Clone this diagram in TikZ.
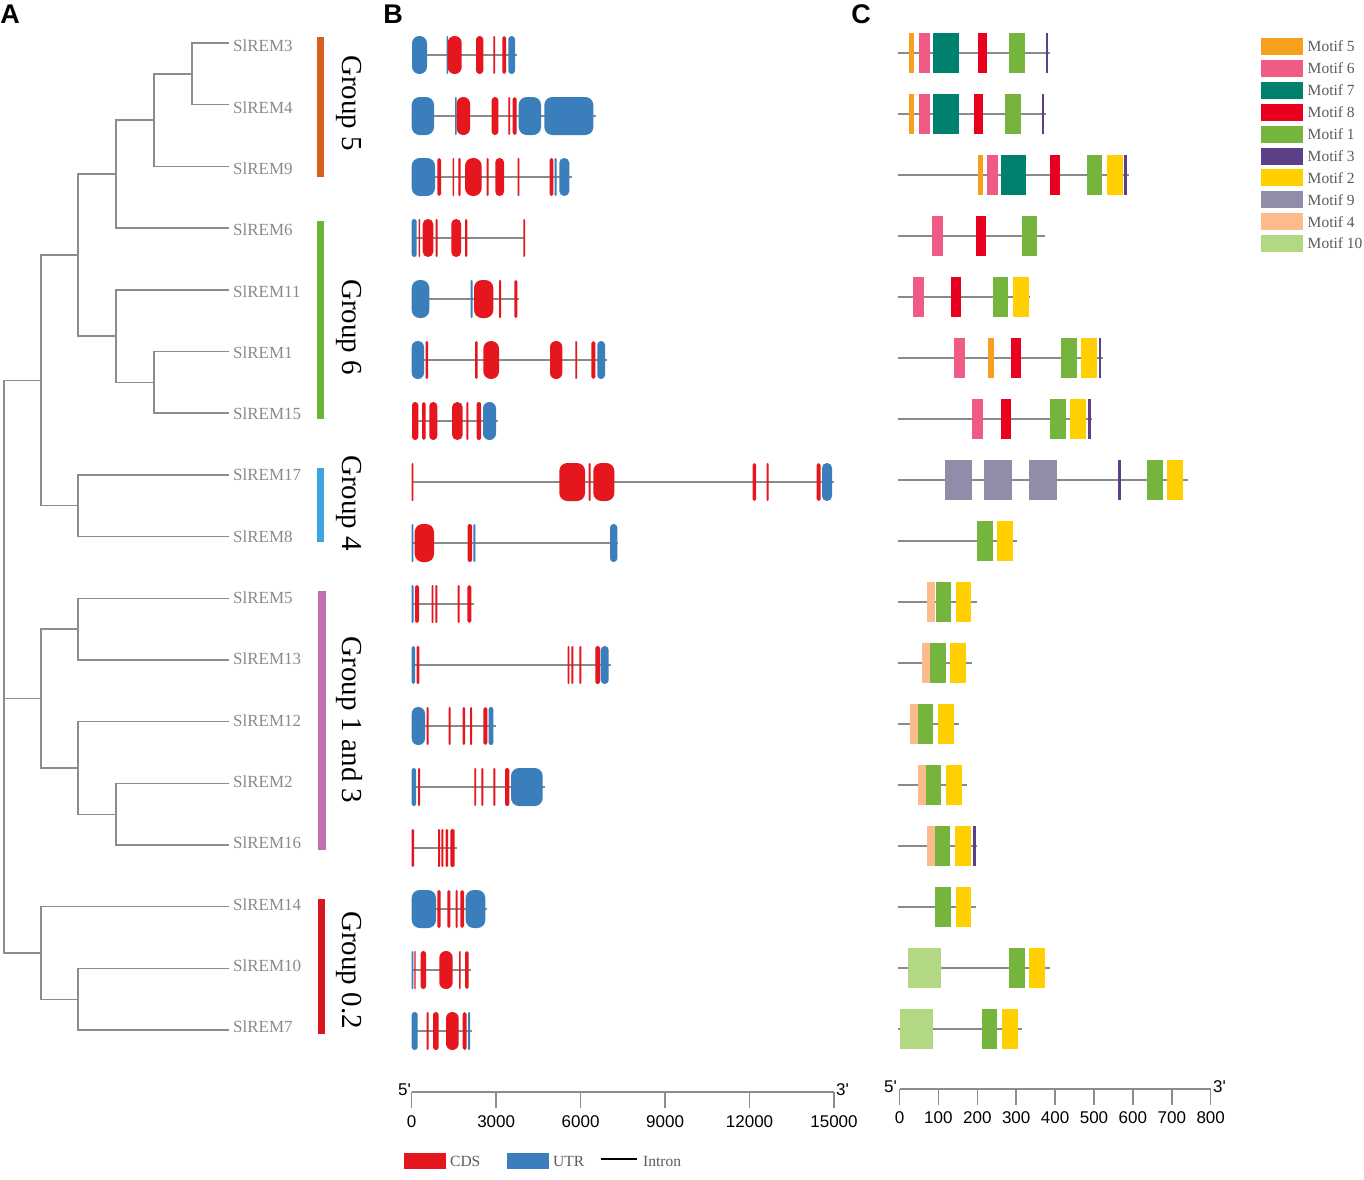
\documentclass[tikz,border=0pt]{standalone}
\usepackage{fontspec}
\setmainfont{Liberation Serif}
\newfontfamily\sansf{Liberation Sans}
\usepackage{tikz}

\definecolor{treegray}{HTML}{8C8C8C}
\definecolor{labgray}{HTML}{8A8A8A}
\definecolor{leggray}{HTML}{5A5A5A}
\definecolor{linegray}{HTML}{8A8A8A}
\definecolor{cds}{HTML}{E5161E}
\definecolor{utr}{HTML}{3A7EBB}
\definecolor{gfive}{HTML}{D9601A}
\definecolor{gsix}{HTML}{6CB534}
\definecolor{gfour}{HTML}{3AA6DD}
\definecolor{gone}{HTML}{C06FB0}
\definecolor{gzero}{HTML}{D7161F}
\definecolor{m5}{HTML}{F7A01D}
\definecolor{m6}{HTML}{EF5B84}
\definecolor{m7}{HTML}{00806F}
\definecolor{m8}{HTML}{E9001E}
\definecolor{m1}{HTML}{75B43D}
\definecolor{m3}{HTML}{5B4088}
\definecolor{m2}{HTML}{FFCF00}
\definecolor{m9}{HTML}{918DA8}
\definecolor{m4}{HTML}{FDBA8A}
\definecolor{m10}{HTML}{B2D884}

% exon with rounded ends, motif box
\newcommand{\exon}[4]{\pgfmathsetmacro{\rr}{min(8,0.49*(#4-#3))}%
  \fill[#1, rounded corners=\rr pt] (#3,#2-19) rectangle (#4,#2+19);}
\newcommand{\motif}[4]{\fill[#1] (#3,#2-20) rectangle (#4,#2+20);}
\newcommand{\gene}[3]{\draw[intron] (411.7,#1) -- (#2,#1);
  \foreach \c/\a/\b in {#3}{\exon{\c}{#1}{\a}{\b}}}
\newcommand{\prot}[3]{\draw[pline] (897.7,#1) -- (#2,#1);
  \foreach \c/\a/\b in {#3}{\motif{\c}{#1}{\a}{\b}}}

\tikzset{
  tree/.style={treegray, line width=1.4pt},
  lbl/.style={anchor=west, inner sep=0, text=labgray, font=\fontsize{17}{19}\selectfont},
  grp/.style={rotate=-90, inner sep=0, font=\fontsize{29}{31}\selectfont},
  panel/.style={inner sep=0, font=\sansf\bfseries\fontsize{27}{29}\selectfont},
  intron/.style={linegray, line width=2.2pt},
  pline/.style={linegray, line width=2pt},
  axis/.style={treegray, line width=1.5pt},
  tick/.style={inner sep=0, font=\sansf\fontsize{17}{19}\selectfont},
  leg/.style={anchor=west, inner sep=0, text=leggray, font=\fontsize{15.5}{17}\selectfont}
}

\begin{document}
\begin{tikzpicture}[x=1pt, y=-1pt]
\useasboundingbox (0,0) rectangle (1364,1179);

\node[panel] (pa) at (10,14) {A};
\node[panel] (pb) at (393,14) {B};
\node[panel] (pc) at (861,14) {C};

% tree
\foreach \n/\y [count=\q from 0] in {3/43, 4/104.7, 9/166.4, 6/228.1, 11/289.8, 1/351.4, 15/413.1, 17/474.8, 8/536.5, 5/598.2, 13/659.9, 12/721.6, 2/783.3, 16/845, 14/906.7, 10/968.4, 7/1030}{
  \coordinate (l\n) at (229,\y);
  \node[lbl] (t\n) at (233,46+61.3*\q) {SlREM\n};
}
\coordinate (a) at (192,73.9);
\coordinate (b) at (154,120.1);
\coordinate (c) at (116,174.1);
\coordinate (d) at (154,382.3);
\coordinate (e) at (116,336);
\coordinate (f) at (78,255);
\coordinate (g) at (78,505.7);
\coordinate (h) at (41,380.4);
\coordinate (i) at (78,629);
\coordinate (j) at (116,814.2);
\coordinate (k) at (78,767.9);
\coordinate (m) at (41,698.5);
\coordinate (n) at (78,999.2);
\coordinate (o) at (41,953);
\coordinate (rt) at (4,698.5);

\draw[tree] (l3) -| (a) |- (l4);
\draw[tree] (a) -| (b) |- (l9);
\draw[tree] (b) -| (c) |- (l6);
\draw[tree] (l1) -| (d) |- (l15);
\draw[tree] (l11) -| (e) |- (d);
\draw[tree] (c) -| (f) |- (e);
\draw[tree] (l17) -| (g) |- (l8);
\draw[tree] (f) -| (h) |- (g);
\draw[tree] (l5) -| (i) |- (l13);
\draw[tree] (l2) -| (j) |- (l16);
\draw[tree] (l12) -| (k) |- (j);
\draw[tree] (i) -| (m) |- (k);
\draw[tree] (l10) -| (n) |- (l7);
\draw[tree] (l14) -| (o) |- (n);
\draw[tree] (h) -| (rt) |- (o);
\draw[tree] (m) -- (rt);

% groups
\fill[gfive] (317,37) rectangle (324,177);
\fill[gsix] (317,221) rectangle (324,419);
\fill[gfour] (317,468) rectangle (324,542);
\fill[gone] (318,591) rectangle (326,850);
\fill[gzero] (318,899) rectangle (325,1034);
\node[grp] (g5) at (349,103) {Group 5};
\node[grp] (g6) at (349,327) {Group 6};
\node[grp] (g4) at (349,503) {Group 4};
\node[grp] (g13) at (349,720) {Group 1 and 3};
\node[grp] (g02) at (349,970) {Group 0.2};

% gene structures
\gene{55}{516.7}{utr/412/427, utr/446.7/448, cds/447.7/461.7, cds/476/483.3, cds/493.3/495, cds/502.3/506, utr/508.3/515}
\gene{116}{596}{utr/411.7/434, utr/455/456.7, cds/456.7/470, cds/491.7/498.3, cds/508.3/510, cds/512.7/516.7, utr/518.7/541, utr/544.3/593.3}
\gene{177}{571.7}{utr/411.7/435, cds/437.3/441, cds/452.7/454, cds/458.3/460.7, cds/465/481.7, cds/486.7/488.7, cds/495.3/504, cds/517.7/519.3, cds/549.7/553.3, utr/554.7/556.7, utr/559.3/569.3}
\gene{238}{525}{utr/411.7/416.7, cds/418.7/420, cds/422.7/433.3, cds/435.7/437.7, cds/451.3/461, cds/465/467.3, cds/523.3/525}
\gene{299}{519.3}{utr/411.7/429.3, utr/470.7/472.7, cds/474/493.3, cds/499/501, cds/514.3/517.3}
\gene{360}{607.3}{utr/411.7/424, cds/425.7/428, cds/475/477.7, cds/483.3/499, cds/550/562.3, cds/575.3/577, cds/591.3/595.3, utr/597.3/605}
\gene{421}{498.3}{cds/412/418.3, cds/422/425.7, cds/429.3/437.3, cds/452/462.7, cds/466.3/468.3, cds/476.7/481, utr/483/496}
\gene{482}{834}{cds/411.7/413.3, cds/559.3/585, cds/588.7/590.7, cds/593.3/614.3, cds/752.7/756, cds/766.7/768.7, cds/816.7/820.7, utr/822/832}
\gene{543}{618.3}{utr/411.7/413.3, cds/414.7/434, cds/467.7/472, utr/473.3/475.3, utr/610/617.3}
\gene{604}{474}{utr/411.7/413.7, cds/415/419, cds/431.7/433.3, cds/435.3/437.3, cds/457.7/459.7, cds/467.3/471.3}
\gene{665}{610.7}{utr/411.7/415, cds/416.7/419.3, cds/567.7/569.3, cds/571.3/573.3, cds/579.3/581.3, cds/595.3/600, utr/600.7/608.7}
\gene{726}{495.7}{utr/411.7/425, cds/426.7/428.7, cds/448.7/450.7, cds/462.7/465, cds/470/472, cds/483.3/487.3, utr/488.7/493.3}
\gene{787}{545}{utr/411.7/416, cds/418/420, cds/474.3/476, cds/481.3/483.3, cds/493.3/495.3, cds/505/509.3, utr/511/542.7}
\gene{848}{457.3}{cds/411.7/414, cds/438/440, cds/441.3/443.3, cds/445.7/448, cds/450.3/454.7}
\gene{909}{487.3}{utr/411.7/436, cds/437.3/440.7, cds/447.3/450.3, cds/455.7/457.7, cds/460.3/464, utr/465.7/485.3}
\gene{970}{470.7}{utr/411.7/413.3, cds/414.3/415.7, cds/420.7/426, cds/439.3/452.7, cds/459/460.7, cds/465/468.7}
\gene{1031}{472.3}{utr/411.7/417.7, cds/426.7/428.7, cds/433/438.7, cds/446/458.7, cds/462.7/466.7, utr/468/470}

% scale B
\draw[axis] (411.7,1092) -- (834,1092);
\foreach \v [count=\k from 0] in {0,3000,6000,9000,12000,15000}{
  \draw[axis] (411.7+84.46*\k,1092) -- ++(0,16);
  \node[tick] (bt\k) at (411.7+84.46*\k,1122) {\v};
}
\node[tick, anchor=east] (b5) at (411,1090) {5'};
\node[tick, anchor=west] (b3) at (836,1090) {3'};

\fill[cds] (404,1153) rectangle (446,1169);
\node[leg] (lcds) at (450,1161) {CDS};
\fill[utr] (507,1153) rectangle (549,1169);
\node[leg] (lutr) at (553,1161) {UTR};
\draw[black, line width=2pt] (601,1159) -- (637,1159);
\node[leg] (lint) at (643,1161) {Intron};

% motifs
\prot{53}{1050}{m5/909.3/914.3, m6/919.3/930, m7/933.3/958.7, m8/977.7/987.3, m1/1009.3/1025, m3/1045.7/1047.7}
\prot{114}{1046}{m5/909.3/914.3, m6/919.3/930, m7/933.3/958.7, m8/973.7/983.3, m1/1005/1020.7, m3/1041.7/1043.7}
\prot{175}{1129.3}{m5/977.7/983, m6/987.3/998, m7/1001/1026.3, m8/1050/1060, m1/1087/1102.3, m2/1107/1122.7, m3/1124.3/1126.7}
\prot{236}{1045}{m6/932.3/943, m8/976/985.7, m1/1021.7/1036.7}
\prot{297}{1030}{m6/913.3/924, m8/951/960.7, m1/992.7/1008.3, m2/1013.3/1028.7}
\prot{358}{1103.3}{m6/954.3/965.3, m5/988.3/993.7, m8/1011/1021, m1/1061/1076.7, m2/1081.3/1097, m3/1099/1101.3}
\prot{419}{1092.3}{m6/971.7/982.7, m8/1001.3/1011, m1/1050/1065.7, m2/1070.3/1086, m3/1088.3/1091}
\prot{480}{1187.7}{m9/944.7/972, m9/984/1011.7, m9/1029.3/1057, m3/1118.3/1120.7, m1/1147/1162.7, m2/1167.3/1182.7}
\prot{541}{1017.3}{m1/977/992.7, m2/997.3/1012.7}
\prot{602}{976.7}{m4/927.3/935.3, m1/935.7/950.7, m2/955.7/971}
\prot{663}{971.7}{m4/922/930, m1/930.3/945.7, m2/950.3/966}
\prot{724}{959.3}{m4/909.7/917.7, m1/918/933, m2/938/953.7}
\prot{785}{967.3}{m4/917.7/925.7, m1/926/941.3, m2/946.3/961.7}
\prot{846}{977.3}{m4/927/934.7, m1/935/950.3, m2/955.3/970.7, m3/973.3/975.7}
\prot{907}{975.7}{m1/935.3/950.7, m2/955.7/971}
\prot{968}{1050}{m10/907.7/940.7, m1/1009/1024.7, m2/1029.3/1045}
\prot{1029}{1022.3}{m10/900/932.7, m1/981.7/997, m2/1002.3/1017.7}

% scale C
\draw[axis] (899.5,1089) -- (1210.7,1089);
\foreach \v [count=\k from 0] in {0,100,...,800}{
  \draw[axis] (899.5+38.9*\k,1089) -- ++(0,16);
  \node[tick] (ct\k) at (899.5+38.9*\k,1118) {\v};
}
\node[tick, anchor=east] (c5) at (897,1087) {5'};
\node[tick, anchor=west] (c3) at (1213,1087) {3'};

% motif legend
\foreach \col/\t [count=\k from 0] in {m5/5, m6/6, m7/7, m8/8, m1/1, m3/3, m2/2, m9/9, m4/4, m10/10}{
  \fill[\col] (1261,46.5+21.9*\k-8.5) rectangle (1303,46.5+21.9*\k+8.5);
  \node[leg] (mt\k) at (1307.5,46.5+21.9*\k) {Motif \t};
}
\end{tikzpicture}
\end{document}
